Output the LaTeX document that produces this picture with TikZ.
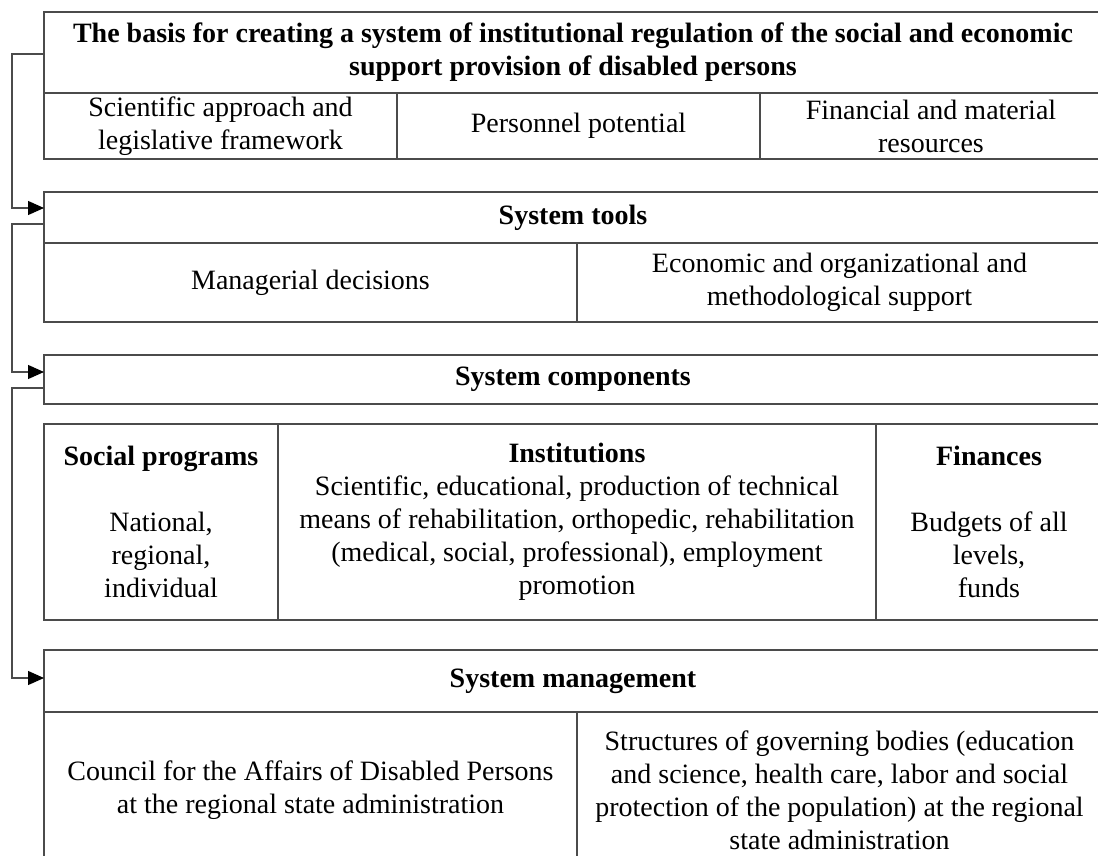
\documentclass[tikz,border=0pt]{standalone}
\usepackage{fontspec}
\setmainfont{Liberation Serif}
\usepackage{tikz}
\usetikzlibrary{arrows.meta,positioning}
\tikzset{>=Latex}
\definecolor{frame}{RGB}{75,75,75}
\tikzset{
  cell/.style={draw=frame,line width=1.2pt,align=center,inner sep=0pt,outer sep=0pt,font=\fontsize{28}{33}\selectfont},
  head/.style={cell,font=\fontsize{28}{33}\selectfont\bfseries},
  link/.style={-{Triangle[length=16pt,width=14pt,color=black]},draw=frame,line width=1.2pt}
}

\begin{document}
\begin{tikzpicture}[x=1pt,y=-1pt]
\useasboundingbox (0,0) rectangle (1098,856);
% basis
\node[head,minimum width=1058pt,minimum height=81pt] (basis) at (573,52.5) {The basis for creating a system of institutional regulation of the social and economic\\support provision of disabled persons};
\node[cell,minimum width=353pt,minimum height=66pt,below right=0pt of basis.south west] (science) {Scientific approach and\\legislative framework};
\node[cell,minimum width=363pt,minimum height=66pt,right=0pt of science] (staff) {Personnel potential};
\node[cell,minimum width=342pt,minimum height=66pt,right=0pt of staff] (money) {Financial and material\\resources};
% tools
\node[head,minimum width=1058pt,minimum height=51pt] (tools) at (573,217.5) {System tools};
\node[cell,minimum width=533pt,minimum height=79pt,below right=0pt of tools.south west] (decisions) {Managerial decisions};
\node[cell,minimum width=525pt,minimum height=79pt,right=0pt of decisions] (support) {Economic and organizational and\\methodological support};
% components
\node[head,minimum width=1058pt,minimum height=49pt] (parts) at (573,379.5) {System components};
\node[cell,minimum width=234pt,minimum height=196pt] (programs) at (161,522) {\textbf{Social programs}\\[33pt]National,\\regional,\\individual};
\node[cell,minimum width=598pt,minimum height=196pt,right=0pt of programs] (institutions) {\textbf{Institutions}\\Scientific, educational, production of technical\\means of rehabilitation, orthopedic, rehabilitation\\(medical, social, professional), employment\\promotion};
\node[cell,minimum width=226pt,minimum height=196pt,right=0pt of institutions] (finances) {\textbf{Finances}\\[33pt]Budgets of all\\levels,\\funds};
% management
\node[head,minimum width=1058pt,minimum height=62pt] (manage) at (573,681) {System management};
\node[cell,minimum width=533pt,minimum height=156pt,below right=0pt of manage.south west] (council) {Council for the Affairs of Disabled Persons\\at the regional state administration};
\node[cell,minimum width=525pt,minimum height=156pt,right=0pt of council] (bodies) {Structures of governing bodies (education\\and science, health care, labor and social\\protection of the population) at the regional\\state administration};
% links
\draw[link] ([yshift=-1.5pt]basis.west) -- ++(-32,0) |- ([yshift=9.5pt]tools.west);
\draw[link] ([yshift=-6.5pt]tools.west) -- ++(-32,0) |- ([yshift=7.5pt]parts.west);
\draw[link] ([yshift=-8.5pt]parts.west) -- ++(-32,0) |- ([yshift=3pt]manage.west);
\end{tikzpicture}
\end{document}
